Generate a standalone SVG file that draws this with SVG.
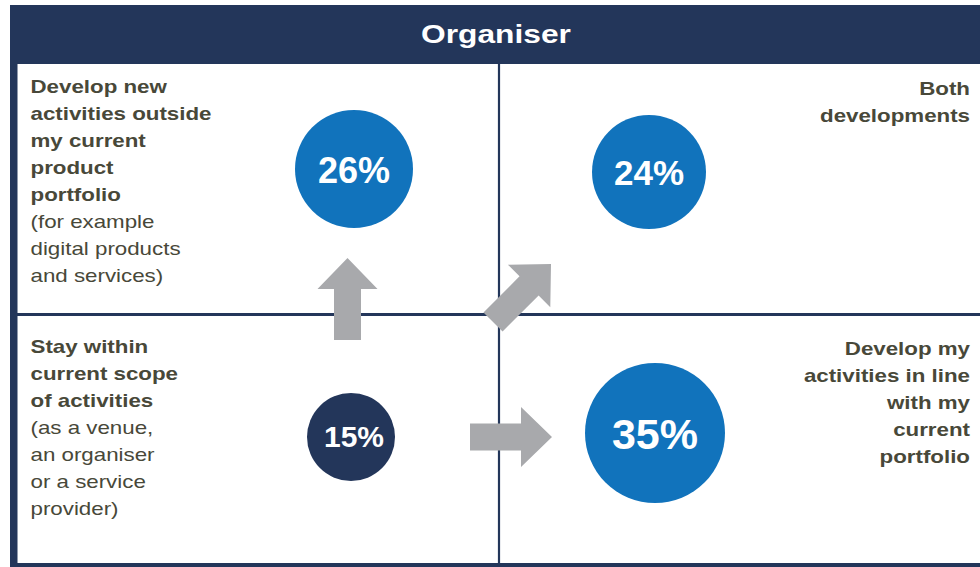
<svg xmlns="http://www.w3.org/2000/svg" width="980" height="567" viewBox="0 0 980 567">
<defs>
<style>
.navy{fill:#23365a}
.lbl{font-family:"Liberation Sans",Arial,sans-serif;font-size:18.6px;fill:#484839}
.b{font-weight:700}
.pct{font-family:"Liberation Sans",Arial,sans-serif;font-weight:700;fill:#ffffff;text-anchor:middle}
.arrow{fill:#a8a9ac}
.div{stroke:#23365a;fill:none}
</style>
<path id="arr" d="M0,0 L30,31 L13.5,31 L13.5,82 L-13.5,82 L-13.5,31 L-30,31 Z"/>
</defs>
<rect x="0" y="0" width="980" height="567" fill="#ffffff"/>

<g id="frame">
<rect class="navy" x="10" y="64" width="7.5" height="503"/>
<rect class="navy" x="10" y="563" width="970" height="4"/>
<line class="div" x1="17" y1="314.5" x2="980" y2="314.5" stroke-width="3"/>
<line class="div" x1="499" y1="64" x2="499" y2="563" stroke-width="2.2"/>
</g>

<g id="header">
<rect class="navy" x="10" y="5" width="970" height="59"/>
<g transform="translate(496,0) scale(1.22,1)">
<text x="0" y="43.5" text-anchor="middle" style="font-family:'Liberation Sans',Arial,sans-serif;font-weight:700;font-size:26px;fill:#ffffff">Organiser</text>
</g>
</g>

<g id="q-top-left">
<g transform="translate(30.5,0) scale(1.2,1)">
<text class="lbl" y="93.5"><tspan class="b" x="0">Develop new</tspan><tspan class="b" x="0" dy="27">activities outside</tspan><tspan class="b" x="0" dy="27">my current</tspan><tspan class="b" x="0" dy="27">product</tspan><tspan class="b" x="0" dy="27">portfolio</tspan><tspan x="0" dy="27">(for example</tspan><tspan x="0" dy="27">digital products</tspan><tspan x="0" dy="27">and services)</tspan></text>
</g>
</g>

<g id="q-bottom-left">
<g transform="translate(30.5,0) scale(1.2,1)">
<text class="lbl" y="353.5"><tspan class="b" x="0">Stay within</tspan><tspan class="b" x="0" dy="27">current scope</tspan><tspan class="b" x="0" dy="27">of activities</tspan><tspan x="0" dy="27">(as a venue,</tspan><tspan x="0" dy="27">an organiser</tspan><tspan x="0" dy="27">or a service</tspan><tspan x="0" dy="27">provider)</tspan></text>
</g>
</g>

<g id="q-top-right">
<g transform="translate(970,0) scale(1.2,1)">
<text class="lbl b" y="95" text-anchor="end"><tspan x="0">Both</tspan><tspan x="0" dy="27">developments</tspan></text>
</g>
</g>

<g id="q-bottom-right">
<g transform="translate(970,0) scale(1.2,1)">
<text class="lbl b" y="355" text-anchor="end"><tspan x="0">Develop my</tspan><tspan x="0" dy="27">activities in line</tspan><tspan x="0" dy="27">with my</tspan><tspan x="0" dy="27">current</tspan><tspan x="0" dy="27">portfolio</tspan></text>
</g>
</g>

<g id="c26">
<circle cx="354" cy="169" r="59" fill="#1173bc"/>
<text class="pct" x="354" y="182.5" font-size="36">26%</text>
</g>
<g id="c24">
<circle cx="649" cy="172" r="57" fill="#1173bc"/>
<text class="pct" x="649" y="185" font-size="35">24%</text>
</g>
<g id="c15">
<circle cx="351" cy="437" r="44" fill="#23365a"/>
<text class="pct" x="354" y="447" font-size="30">15%</text>
</g>
<g id="c35">
<circle cx="655" cy="433" r="70" fill="#1173bc"/>
<text class="pct" x="655" y="449" font-size="43">35%</text>
</g>

<g id="connectors">
<use href="#arr" class="arrow" transform="translate(347.5,258)"/>
<use href="#arr" class="arrow" transform="translate(551,264) rotate(45)"/>
<use href="#arr" class="arrow" transform="translate(552,437) rotate(90)"/>
</g>
</svg>
